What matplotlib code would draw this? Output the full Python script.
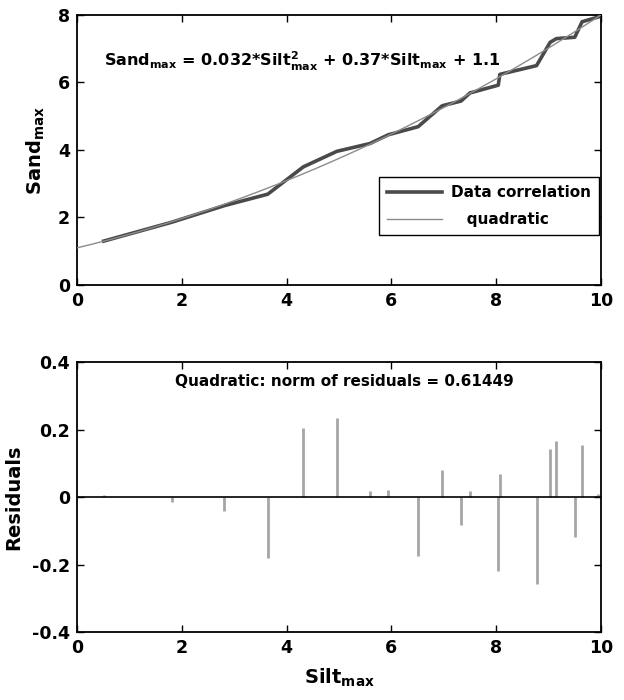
import matplotlib
matplotlib.use("Agg")
import matplotlib.pyplot as plt
import numpy as np

plt.rcParams['font.family'] = ['DejaVu Sans']
plt.rcParams['font.weight'] = 'bold'
plt.rcParams['mathtext.fontset'] = 'custom'
plt.rcParams['mathtext.rm'] = 'DejaVu Sans:bold'
plt.rcParams['mathtext.it'] = 'DejaVu Sans:bold'
plt.rcParams['mathtext.bf'] = 'DejaVu Sans:bold'

# Data
silt = [0.51, 1.81, 2.81, 3.64, 4.32, 4.96, 5.59, 5.94, 6.51, 6.97, 7.33,
        7.50, 8.04, 8.07, 8.77, 9.03, 9.15, 9.50, 9.64, 9.95]
sand = [1.30, 1.86, 2.35, 2.69, 3.50, 3.96, 4.19, 4.45, 4.69, 5.31, 5.45,
        5.69, 5.92, 6.24, 6.50, 7.19, 7.30, 7.34, 7.80, 7.94]
residuals = [0.005, -0.015, -0.04, -0.182, 0.205, 0.234, 0.018, 0.022, -0.174,
             0.080, -0.082, 0.018, -0.219, 0.067, -0.257, 0.143, 0.167, -0.119,
             0.155, 0.010]
coef = [0.032, 0.37, 1.1]
x_ticks = [0, 2, 4, 6, 8, 10]
top_yticks = [0, 2, 4, 6, 8]
bot_yticks = [-0.4, -0.2, 0, 0.2, 0.4]
bot_yticklabels = ['-0.4', '-0.2', '0', '0.2', '0.4']

fig = plt.figure(figsize=(6.24, 7.0), dpi=100)
ax1 = fig.add_axes([0.1234, 0.5929, 0.8397, 0.3857])
ax2 = fig.add_axes([0.1234, 0.0971, 0.8397, 0.3857])

xf = np.linspace(0, 10, 200)
yf = np.polyval(coef, xf)

ax1.plot(silt, sand, color='#4a4a4a', lw=2.6, label='Data correlation', zorder=3)
ax1.plot(xf, yf, color='#8c8c8c', lw=1.0, label='   quadratic', zorder=4)
ax1.set_xlim(0, 10)
ax1.set_ylim(0, 8)
ax1.set_xticks(x_ticks)
ax1.set_yticks(top_yticks)
ax1.set_ylabel('Sand$_{max}$', fontsize=14, fontweight='bold')
ax1.yaxis.set_label_coords(-0.058, 0.5)
ax1.text(0.52, 6.62, 'Sand$_{max}$ = 0.032*Silt$^{2}_{max}$ + 0.37*Silt$_{max}$ + 1.1',
         fontsize=11.5, fontweight='bold', va='center', ha='left')
leg = ax1.legend(loc='lower right', bbox_to_anchor=(0.996, 0.186), fontsize=11,
                 frameon=True, fancybox=False, edgecolor='black', framealpha=1,
                 handlelength=3.6, borderpad=0.5, labelspacing=0.8, handletextpad=0.6,
                 borderaxespad=0)
leg.get_frame().set_linewidth(1.0)
for t in leg.get_texts():
    t.set_fontweight('bold')

ax2.vlines(silt, 0, residuals, color='#a6a6a6', lw=2.0)
ax2.axhline(0, color='black', lw=1.2)
ax2.set_xlim(0, 10)
ax2.set_ylim(-0.4, 0.4)
ax2.set_xticks(x_ticks)
ax2.set_yticks(bot_yticks)
ax2.set_yticklabels(bot_yticklabels)
ax2.set_ylabel('Residuals', fontsize=14, fontweight='bold')
ax2.yaxis.set_label_coords(-0.102, 0.5)
ax2.set_xlabel('Silt$_{max}$', fontsize=14, fontweight='bold', labelpad=7)
ax2.text(5.1, 0.343, 'Quadratic: norm of residuals = 0.61449', fontsize=11,
         fontweight='bold', ha='center', va='center')

for ax in (ax1, ax2):
    ax.tick_params(direction='in', length=5, width=1.0, top=True, right=True,
                   labelsize=12.5, pad=5)
    for lab in ax.get_xticklabels() + ax.get_yticklabels():
        lab.set_fontweight('bold')
    for s in ax.spines.values():
        s.set_linewidth(1.3)

fig.savefig('out.png', dpi=100)
